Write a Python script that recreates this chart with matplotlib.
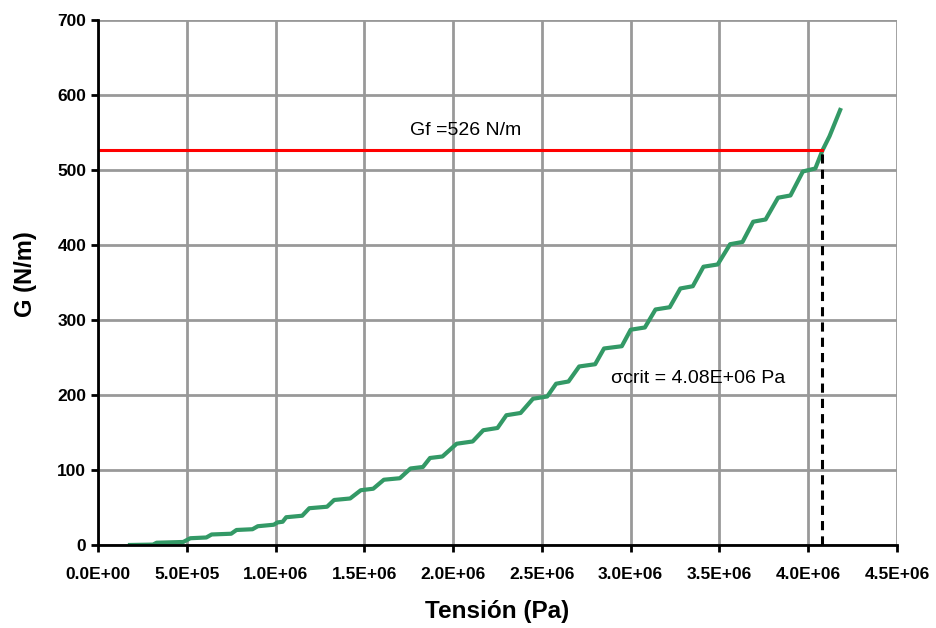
import matplotlib
matplotlib.use('Agg')
import matplotlib.pyplot as plt
from matplotlib.ticker import FuncFormatter

# curve (stress in units of 1E+06 Pa, G in N/m)
sigma_e6 = [0.18, 0.31, 0.33, 0.48, 0.52, 0.61, 0.64, 0.75, 0.78, 0.87,
            0.90, 0.99, 1.01, 1.04, 1.06, 1.15, 1.19, 1.29, 1.33, 1.42,
            1.48, 1.55, 1.61, 1.70, 1.76, 1.83, 1.87, 1.94, 2.02, 2.11,
            2.17, 2.25, 2.30, 2.38, 2.45, 2.53, 2.58, 2.65, 2.71, 2.80,
            2.85, 2.95, 3.00, 3.08, 3.14, 3.22, 3.28, 3.35, 3.41, 3.49,
            3.56, 3.63, 3.69, 3.76, 3.83, 3.90, 3.97, 4.04, 4.08, 4.12, 4.18]
G_vals = [0, 0.5, 3, 4, 9, 10, 14, 15, 20, 21,
          25, 27, 30, 31, 37, 39, 49, 51, 60, 62,
          73, 75, 87, 89, 102, 104, 116, 118, 135, 138,
          153, 156, 173, 176, 195, 198, 215, 218, 238, 241,
          262, 265, 287, 290, 314, 317, 342, 345, 371, 374,
          401, 404, 431, 434, 463, 466, 498, 502, 526, 545, 580]

Gf = 526
sigma_crit = 4.08e6
x_ticks = [0, 0.5e6, 1.0e6, 1.5e6, 2.0e6, 2.5e6, 3.0e6, 3.5e6, 4.0e6, 4.5e6]
y_ticks = [0, 100, 200, 300, 400, 500, 600, 700]

plt.rcParams['font.family'] = ['Liberation Sans', 'DejaVu Sans']

fig = plt.figure(figsize=(9.37, 6.28), dpi=100)
ax = fig.add_axes([0.1046, 0.1322, 0.8527, 0.836])

sigma = [s * 1e6 for s in sigma_e6]

ax.grid(True, color='#999999', linewidth=2, zorder=0)
ax.plot(sigma, G_vals, color='#339966', linewidth=3, zorder=3)
ax.plot([0, sigma_crit], [Gf, Gf], color='#ff0000', linewidth=2.2, zorder=4)
ax.plot([sigma_crit, sigma_crit], [0, Gf], color='black', linewidth=2.2,
        linestyle=(0, (3, 2)), zorder=4)

ax.text(2.07e6, 552, 'Gf =526 N/m', fontsize=14, ha='center', va='center')
ax.text(2.89e6, 222, 'σcrit = 4.08E+06 Pa', fontsize=14, ha='left', va='center')

ax.set_xlim(0, 4.5e6)
ax.set_ylim(0, 700)
ax.set_xticks(x_ticks)
ax.set_yticks(y_ticks)
ax.xaxis.set_major_formatter(FuncFormatter(lambda v, p: f'{v:.1E}'))

for s in ['top', 'right']:
    ax.spines[s].set_visible(False)
for s in ['left', 'bottom']:
    ax.spines[s].set_linewidth(2)
    ax.spines[s].set_zorder(5)

ax.tick_params(direction='out', length=5, width=2, labelsize=12.5)
ax.tick_params(axis='x', pad=11)
for lbl in ax.get_xticklabels() + ax.get_yticklabels():
    lbl.set_fontweight('bold')

ax.set_xlabel('Tensión (Pa)', fontsize=17.5, fontweight='bold')
ax.set_ylabel('G (N/m)', fontsize=17, fontweight='bold')
ax.xaxis.set_label_coords(0.5, -0.104)
ax.yaxis.set_label_coords(-0.076, 0.515)

fig.savefig('out.png', dpi=100)
